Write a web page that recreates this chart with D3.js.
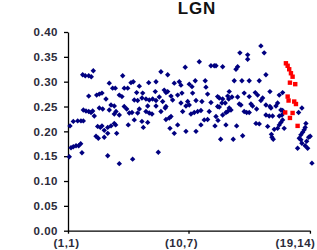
<!DOCTYPE html>
<html>
<head>
<meta charset="utf-8">
<script src="https://cdn.jsdelivr.net/npm/d3@7"></script>
<style>
  body { margin: 0; background: #fff; }
  text { font-family: Arial, "Liberation Sans", sans-serif; }
</style>
</head>
<body>
<div id="chart"></div>
<script>
const width = 317;
const height = 250;

const title = "LGN";
const yTicks = [0, 0.05, 0.10, 0.15, 0.20, 0.25, 0.30, 0.35, 0.40];
const xTickPos = [0, 132, 265];
const xTickLabels = ["(1,1)", "(10,7)", "(19,14)"];

// blue series: position along the category axis and value
const blueX = [1.4,2.2,3.3,5.8,5.8,8.8,10.6,11.7,13.9,14.2,15.3,16.1,16.8,16.8,18.9,19.7,22.7,22.7,22.7,25.2,
  25.5,27.0,27.7,28.8,30.7,31.4,32.5,33.2,34.3,34.3,35.4,37.2,37.2,38.0,39.7,39.7,41.6,43.5,43.5,43.5,
  45.2,45.2,47.1,47.1,48.9,50.7,50.7,50.7,51.8,52.2,52.6,53.3,56.2,56.2,56.2,59.1,59.9,61.6,61.6,64.3,
  65.4,66.0,67.1,69.0,70.1,70.8,71.5,72.6,72.6,75.2,76.3,76.3,78.1,78.1,81.0,81.0,81.8,82.5,85.4,85.4,
  87.3,87.3,88.4,89.0,89.0,92.0,92.7,95.6,96.4,96.4,96.4,98.9,100.0,101.8,101.8,103.7,105.4,106.5,107.3,107.3,
  107.3,109.2,109.2,110.9,111.7,112.8,112.8,114.6,116.4,116.4,120.1,120.1,121.9,123.7,123.7,124.8,125.6,128.4,129.2,129.2,
  131.1,132.8,132.8,134.7,135.8,136.5,138.3,139.4,140.2,140.2,142.0,143.8,145.6,145.6,146.7,149.2,150.3,151.1,152.9,152.9,
  154.7,156.6,156.6,160.2,161.0,162.1,162.1,163.9,163.9,164.3,165.7,165.7,167.2,168.6,169.4,169.4,169.4,172.2,173.0,173.0,
  174.9,174.9,176.0,176.6,176.6,178.5,179.6,181.0,182.1,184.0,184.7,185.8,185.8,187.6,188.3,189.4,190.5,191.3,193.0,193.0,
  195.7,196.8,196.8,198.5,198.5,198.5,200.4,202.2,205.1,205.9,206.6,207.7,209.5,209.5,211.3,211.3,213.2,214.9,216.8,216.8,
  216.8,218.7,220.4,221.2,221.2,222.3,222.8,223.4,224.1,224.8,225.9,227.8,229.6,229.6,231.4,231.4,231.4,233.2,233.2,234.3,
  235.1,235.1,235.1,236.8,251.5,252.6,253.3,255.1,255.1,256.2,256.2,257.0,258.7,259.8,259.8,260.6,261.4,262.5,263.6,265.3,
  267.2];
const blueY = [0.149,0.211,0.167,0.169,0.220,0.171,0.221,0.171,0.175,0.221,0.157,0.314,0.221,0.243,0.312,0.241,0.312,0.240,0.271,0.238,
  0.310,0.241,0.322,0.231,0.190,0.273,0.210,0.186,0.275,0.247,0.208,0.277,0.211,0.245,0.202,0.188,0.265,0.208,0.151,0.196,
  0.297,0.243,0.253,0.211,0.287,0.251,0.235,0.216,0.287,0.213,0.240,0.196,0.273,0.233,0.135,0.270,0.312,0.287,0.250,0.245,
  0.287,0.213,0.237,0.298,0.238,0.144,0.300,0.263,0.223,0.278,0.262,0.237,0.291,0.245,0.267,0.220,0.277,0.208,0.265,0.240,
  0.251,0.218,0.298,0.263,0.237,0.235,0.265,0.280,0.300,0.262,0.251,0.158,0.269,0.320,0.240,0.260,0.283,0.247,0.278,0.224,
  0.250,0.314,0.280,0.227,0.206,0.271,0.230,0.263,0.297,0.196,0.273,0.213,0.300,0.293,0.257,0.277,0.240,0.329,0.251,0.200,
  0.260,0.295,0.253,0.235,0.290,0.277,0.238,0.302,0.262,0.200,0.240,0.340,0.242,0.213,0.260,0.223,0.302,0.289,0.275,0.224,
  0.240,0.332,0.258,0.332,0.211,0.332,0.230,0.270,0.250,0.222,0.267,0.249,0.184,0.257,0.330,0.265,0.233,0.257,0.238,0.213,
  0.271,0.240,0.265,0.280,0.247,0.243,0.269,0.184,0.302,0.325,0.211,0.330,0.269,0.255,0.358,0.253,0.302,0.191,0.277,0.240,
  0.238,0.354,0.345,0.302,0.270,0.238,0.255,0.251,0.278,0.216,0.245,0.273,0.302,0.215,0.372,0.262,0.267,0.358,0.314,0.253,
  0.233,0.210,0.231,0.280,0.250,0.247,0.194,0.188,0.231,0.184,0.204,0.251,0.257,0.206,0.273,0.231,0.213,0.243,0.218,0.233,
  0.278,0.242,0.223,0.206,0.166,0.238,0.186,0.193,0.183,0.247,0.176,0.198,0.203,0.208,0.171,0.216,0.180,0.166,0.188,0.190,
  0.136];

// red (highlighted) series
const redX = [237.9,238.7,240.6,240.6,241.6,242.3,243.1,243.1,244.2,246.0,246.0,247.8,248.9,249.7,251.5];
const redY = [0.238,0.337,0.332,0.270,0.262,0.325,0.298,0.227,0.317,0.310,0.237,0.260,0.295,0.255,0.211];

const margin = {top: 32, right: 5.7, bottom: 19.3, left: 68};

const svg = d3.select("#chart")
    .append("svg")
    .attr("width", width)
    .attr("height", height);

const x = d3.scaleLinear()
    .domain([0, 266.5])
    .range([margin.left, width - margin.right]);

const y = d3.scaleLinear()
    .domain([0, 0.4])
    .range([height - margin.bottom, margin.top]);

// title
svg.append("text")
    .attr("x", 197)
    .attr("y", 13.5)
    .attr("text-anchor", "middle")
    .attr("font-size", "17px")
    .attr("font-weight", "bold")
    .attr("letter-spacing", "0.8px")
    .attr("fill", "#111")
    .text(title);

// y axis
const yAxis = svg.append("g")
    .attr("transform", `translate(${margin.left},0)`)
    .call(d3.axisLeft(y).tickValues(yTicks).tickFormat(d3.format(".2f")).tickSize(4).tickSizeOuter(0).tickPadding(6));

// x axis
const xAxis = svg.append("g")
    .attr("transform", `translate(0,${height - margin.bottom})`)
    .call(d3.axisBottom(x).tickValues(xTickPos).tickFormat((d, i) => xTickLabels[i]).tickSize(3).tickSizeOuter(0).tickPadding(5));

xAxis.select(".domain").attr("d", `M${x(0)},0.5H${x(265)}`);

// shift the category labels the way the original chart does
const labelShift = [-2, -7.5, 5];
xAxis.selectAll(".tick text")
    .attr("dx", (d, i) => labelShift[i])
    .attr("text-anchor", (d, i) => i === 2 ? "end" : "middle");

[yAxis, xAxis].forEach(g => {
    g.selectAll(".domain, .tick line").attr("stroke", "#000").attr("stroke-width", 1.3);
    g.selectAll(".tick text")
        .attr("font-family", "Arial, 'Liberation Sans', sans-serif")
        .attr("font-size", "11.5px")
        .attr("font-weight", "bold")
        .attr("letter-spacing", "0.5px")
        .attr("fill", "#2b2b3a");
});

// blue diamonds
const blue = blueX.map((d, i) => ({x: d, y: blueY[i]}));
svg.append("g")
    .selectAll("path")
    .data(blue)
    .enter().append("path")
    .attr("transform", d => `translate(${x(d.x)},${y(d.y)})`)
    .attr("d", "M0,-2.7L2.7,0L0,2.7L-2.7,0Z")
    .attr("fill", "#000080");

// red squares
const red = redX.map((d, i) => ({x: d, y: redY[i]}));
svg.append("g")
    .selectAll("rect")
    .data(red)
    .enter().append("rect")
    .attr("x", d => x(d.x) - 2.2)
    .attr("y", d => y(d.y) - 2.2)
    .attr("width", 4.4)
    .attr("height", 4.4)
    .attr("fill", "#ff0000");
</script>
</body>
</html>
